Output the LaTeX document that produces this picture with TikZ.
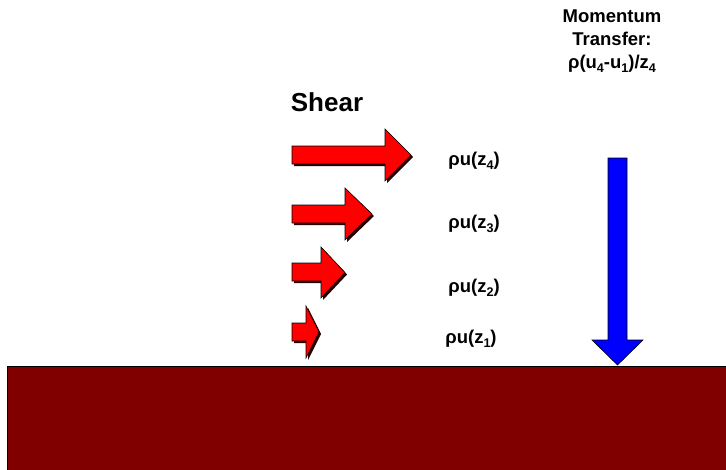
\documentclass[tikz,border=0pt]{standalone}
\usepackage{fontspec}
\setmainfont{Liberation Sans}
\newcommand\lowsub[1]{\raisebox{-0.45ex}{\fontsize{0.68em}{0.68em}\selectfont #1}}
\begin{document}
\begin{tikzpicture}[x=1pt,y=-1pt,
  redarrow/.style={fill=red,draw=black,line width=0.6pt,line join=miter},
  shadowarrow/.style={fill=black!85!red,draw=none},
  bluearrow/.style={fill=blue,draw=black,line width=0.6pt,line join=miter},
  ground/.style={fill={rgb,255:red,128;green,0;blue,0},draw=black,line width=0.6pt},
  lbl/.style={font=\bfseries\fontsize{18.5}{20}\selectfont,inner sep=0pt},
  title/.style={font=\bfseries\fontsize{26}{30}\selectfont,inner sep=0pt},
  mt/.style={font=\bfseries\fontsize{18.5}{23}\selectfont,inner sep=0pt,align=center}]
\useasboundingbox (0,0) rectangle (726,469);
\fill[white] (0,0) rectangle (726,469);
% ground
\draw[ground] (7,366) rectangle (730,475);
% shear arrows
\newcommand\sarrow[7]{%
  \fill[shadowarrow,shift={(2,2)}] (#1,#2) -- (#4,#2) -- (#4,#5) -- (#7,{(#5+#6)/2}) -- (#4,#6) -- (#4,#3) -- (#1,#3) -- cycle;
  \draw[redarrow] (#1,#2) -- (#4,#2) -- (#4,#5) -- (#7,{(#5+#6)/2}) -- (#4,#6) -- (#4,#3) -- (#1,#3) -- cycle;}
\sarrow{292}{146}{164}{385}{129}{181}{411}
\sarrow{292}{205}{223}{345}{188}{240}{372}
\sarrow{292}{263}{281}{321}{247}{298}{345}
\sarrow{292}{323}{341}{306}{306}{358}{319}
% momentum arrow
\draw[bluearrow] (608,158) -- (627,158) -- (627,340) -- (643,340) -- (617.5,365) -- (592,340) -- (608,340) -- cycle;
% texts
\node[title] (shear) at (327,102) {Shear};
\node[lbl] (u4) at (474,161) {ρu(z\lowsub{4})};
\node[lbl] (u3) at (474,224) {ρu(z\lowsub{3})};
\node[lbl] (u2) at (474,288) {ρu(z\lowsub{2})};
\node[lbl] (u1) at (471,339) {ρu(z\lowsub{1})};
\node[mt] (mom) at (612,41) {Momentum\\Transfer:\\ρ(u\lowsub{4}-u\lowsub{1})/z\lowsub{4}};
\end{tikzpicture}
\end{document}
